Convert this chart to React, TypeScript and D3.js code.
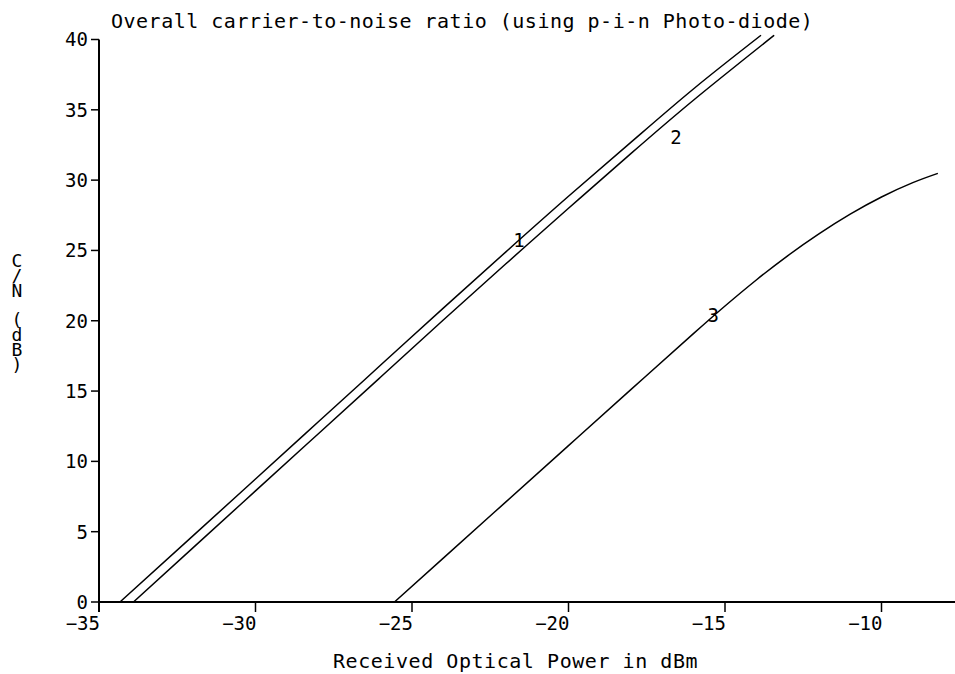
import React from "react";
import * as d3 from "d3";

const W = 955;
const H = 674;

const titleText = "Overall carrier-to-noise ratio (using p-i-n Photo-diode)";
const xAxisTitle = "Received Optical Power in dBm";
const yAxisTitle = "C/N (dB)";

const xTicks = [-35, -30, -25, -20, -15, -10];
const yTicks = [0, 5, 10, 15, 20, 25, 30, 35, 40];

// Curve 1
const power1 = [-34.33, -32, -30, -28, -26, -24, -22, -20, -18, -16, -13.85];
const cn1 = [0, 4.7, 8.75, 12.8, 16.85, 20.9, 24.9, 28.85, 32.7, 36.5, 40.3];
// Curve 2
const power2 = [-33.9, -32, -30, -28, -26, -24, -22, -20, -18, -16, -13.43];
const cn2 = [0, 3.85, 7.9, 11.95, 16.0, 20.05, 24.05, 28.0, 31.9, 35.7, 40.3];
// Curve 3
const power3 = [-25.56, -24, -22, -20, -18, -16, -15, -14, -13, -12, -11, -10, -9, -8.2];
const cn3 = [0, 3.12, 7.12, 11.12, 15.12, 19.1, 21.05, 22.9, 24.62, 26.18, 27.58, 28.8, 29.82, 30.48];

const curveLabels = ["1", "2", "3"];
const labelPower = [-21.58, -16.57, -15.38];
const labelCN = [25.73, 33.05, 20.4];

const mono = "'DejaVu Sans Mono', monospace";

export default function App() {
  const x = d3.scaleLinear().domain([-35, -10]).range([99, 881.5]);
  const y = d3.scaleLinear().domain([0, 40]).range([602, 39.5]);

  const line = d3
    .line<[number, number]>()
    .x((d) => x(d[0]))
    .y((d) => y(d[1]))
    .curve(d3.curveNatural);

  const series = [
    power1.map((p, i) => [p, cn1[i]] as [number, number]),
    power2.map((p, i) => [p, cn2[i]] as [number, number]),
    power3.map((p, i) => [p, cn3[i]] as [number, number]),
  ];

  const x0 = x(-35);
  const y0 = y(0);

  return (
    <svg
      width={W}
      height={H}
      style={{ position: "absolute", left: 0, top: 0, background: "#fff" }}
    >
      <rect x={0} y={0} width={W} height={H} fill="#fff" />
      {/* title */}
      <text x={111} y={28} fontFamily={mono} fontSize={20} letterSpacing={0.5} fill="#000">
        {titleText}
      </text>

      {/* axes */}
      <line x1={x0} y1={y(40)} x2={x0} y2={y0 + 10} stroke="#000" strokeWidth={2} />
      <line x1={x0} y1={y0} x2={W + 10} y2={y0} stroke="#000" strokeWidth={2} />

      {/* y ticks */}
      {yTicks.map((t) => (
        <g key={"y" + t}>
          <line x1={x0 - 8} x2={x0} y1={y(t)} y2={y(t)} stroke="#000" strokeWidth={1.5} />
          <text
            x={x0 - 11}
            y={y(t)}
            dy="0.36em"
            textAnchor="end"
            fontFamily={mono}
            fontSize={19}
            fill="#000"
          >
            {t}
          </text>
        </g>
      ))}

      {/* x ticks */}
      {xTicks.map((t) => (
        <g key={"x" + t}>
          <line x1={x(t)} x2={x(t)} y1={y0} y2={y0 + 10} stroke="#000" strokeWidth={1.5} />
          <text
            x={x(t) + 1}
            y={y0 + 28}
            textAnchor="end"
            fontFamily={mono}
            fontSize={19}
            fill="#000"
          >
            {t < 0 ? "\u2212" + Math.abs(t) : t}
          </text>
        </g>
      ))}

      {/* x axis title */}
      <text x={333} y={668} fontFamily={mono} fontSize={20} letterSpacing={0.55} fill="#000">
        {xAxisTitle}
      </text>

      {/* y axis title, stacked upright characters */}
      <text
        x={17}
        y={250}
        fontFamily={mono}
        fontSize={18}
        textLength={125}
        lengthAdjust="spacing"
        fill="#000"
        style={{ writingMode: "vertical-rl", textOrientation: "upright" } as any}
      >
        {yAxisTitle}
      </text>

      {/* curves */}
      {series.map((s, i) => (
        <path key={"s" + i} d={line(s) || ""} fill="none" stroke="#000" strokeWidth={1.5} />
      ))}

      {/* curve labels */}
      {curveLabels.map((l, i) => (
        <text
          key={"l" + i}
          x={x(labelPower[i])}
          y={y(labelCN[i])}
          dy="0.36em"
          textAnchor="middle"
          fontFamily={mono}
          fontSize={19}
          fill="#000"
        >
          {l}
        </text>
      ))}
    </svg>
  );
}
